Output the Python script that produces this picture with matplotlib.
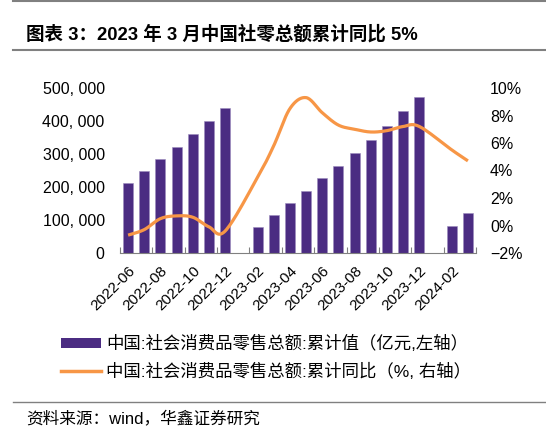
import numpy as np
import matplotlib.pyplot as plt
from matplotlib.lines import Line2D
from matplotlib.patches import Patch

plt.rcParams['font.family'] = ['Liberation Sans', 'Noto Sans CJK SC', 'DejaVu Sans']

months = ['2022-06', '2022-07', '2022-08', '2022-09', '2022-10', '2022-11', '2022-12',
          '2023-01', '2023-02', '2023-03', '2023-04', '2023-05', '2023-06', '2023-07',
          '2023-08', '2023-09', '2023-10', '2023-11', '2023-12', '2024-01', '2024-02',
          '2024-03']
# 累计值（亿元），1月无单独数据
retail_cum = [212000, 248000, 284000, 321000, 361000, 400000, 440000,
              np.nan, 78000, 116000, 150000, 188000, 228000, 265000,
              302000, 343000, 386000, 430000, 472000, np.nan, 82000,
              121000]
# 累计同比（%）
retail_yoy = [-0.7, -0.3, 0.5, 0.7, 0.6, -0.1, -0.4,
              np.nan, 3.5, 5.8, 8.5, 9.3, 8.2, 7.3,
              7.0, 6.8, 6.9, 7.2, 7.2, np.nan, 5.5,
              4.7]
left_ticks = [0, 100000, 200000, 300000, 400000, 500000]
right_ticks = [-2, 0, 2, 4, 6, 8, 10]

bar_color = '#4B2C82'
line_color = '#F79646'
grey = '#808080'


def smooth(x, y, n=20):
    # Catmull-Rom style smoothing like Excel's smoothed line
    x = np.asarray(x, float)
    y = np.asarray(y, float)
    px = np.concatenate([[x[0]], x, [x[-1]]])
    py = np.concatenate([[y[0]], y, [y[-1]]])
    xs, ys = [], []
    t = np.linspace(0, 1, n)
    for i in range(1, len(px) - 2):
        p0 = np.array([px[i], py[i]])
        p3 = np.array([px[i + 1], py[i + 1]])
        b1 = p0 + (p3 - np.array([px[i - 1], py[i - 1]])) / 6
        b2 = p3 - (np.array([px[i + 2], py[i + 2]]) - p0) / 6
        pts = ((1 - t) ** 3)[:, None] * p0 + (3 * (1 - t) ** 2 * t)[:, None] * b1 \
            + (3 * (1 - t) * t ** 2)[:, None] * b2 + (t ** 3)[:, None] * p3
        xs.extend(pts[:, 0])
        ys.extend(pts[:, 1])
    return xs, ys


fig = plt.figure(figsize=(5.46, 4.36), dpi=100)
ax = fig.add_axes([120 / 546, 1 - 253 / 436, 356 / 546, 165 / 436])
ax2 = ax.twinx()

x = np.arange(len(months))
ax.bar(x, retail_cum, width=0.62, color=bar_color, edgecolor='#9C8BBE', linewidth=0.4, zorder=2)

yoy = np.array(retail_yoy)
ok = ~np.isnan(yoy)
sx, sy = smooth(x[ok], yoy[ok])
ax2.plot(sx, sy, color=line_color, lw=2.3, solid_capstyle='butt', zorder=3)

ax.set_xlim(-0.5, len(months) - 0.5)
ax.set_ylim(0, 500000)
ax2.set_ylim(-2, 10)

ax.set_yticks(left_ticks)
ax.set_yticklabels(['{:,}'.format(v).replace(',', ', ') for v in left_ticks])
ax2.set_yticks(right_ticks)
ax2.set_yticklabels(['{}%'.format(v).replace('-', '\u2212') for v in right_ticks])

ax.set_xticks(x[::2])
ax.set_xticklabels(months[::2], rotation=45, ha='right', rotation_mode='anchor')
ax.set_xticks(np.arange(-0.5, len(months), 2), minor=True)
ax.tick_params(axis='x', which='major', length=0, pad=8, labelsize=11)
ax.tick_params(axis='x', which='minor', length=4, direction='in', color=grey, width=0.8)
ax.tick_params(axis='y', length=0, pad=11, labelsize=11.5)
ax2.tick_params(axis='y', length=0, pad=10, labelsize=11.5)

for a in (ax, ax2):
    for s in ('top', 'left', 'right', 'bottom'):
        a.spines[s].set_visible(False)
ax.spines['bottom'].set_visible(True)
ax.spines['bottom'].set_color(grey)
ax.spines['bottom'].set_linewidth(0.8)

# title and rules
fig.add_artist(Line2D([13 / 546, 1], [1 - 1 / 436, 1 - 1 / 436], color=grey, lw=1.5))
fig.add_artist(Line2D([13 / 546, 1], [1 - 50 / 436, 1 - 50 / 436], color=grey, lw=1.5))
fig.add_artist(Line2D([13 / 546, 1], [1 - 402 / 436, 1 - 402 / 436], color=grey, lw=1.0))
fig.text(26 / 546, 1 - 34 / 436, '图表 3：2023 年 3 月中国社零总额累计同比 5%',
         fontsize=13.3, fontweight='bold', va='center', ha='left')
fig.text(26 / 546, 1 - 418 / 436, '资料来源：wind，华鑫证券研究',
         fontsize=12, va='center', ha='left')

handles = [Patch(facecolor=bar_color, edgecolor='none'),
           Line2D([], [], color=line_color, lw=2.5)]
labels = ['中国:社会消费品零售总额:累计值（亿元,左轴）',
          '中国:社会消费品零售总额:累计同比（%, 右轴）']
fig.legend(handles, labels, loc='upper left', bbox_to_anchor=(61 / 546, 1 - 335 / 436),
           frameon=False, fontsize=12.5, handlelength=2.3, handleheight=0.5,
           handletextpad=0.3, labelspacing=0.6, borderpad=0, borderaxespad=0)

fig.savefig('out.png', dpi=100, facecolor='white')
